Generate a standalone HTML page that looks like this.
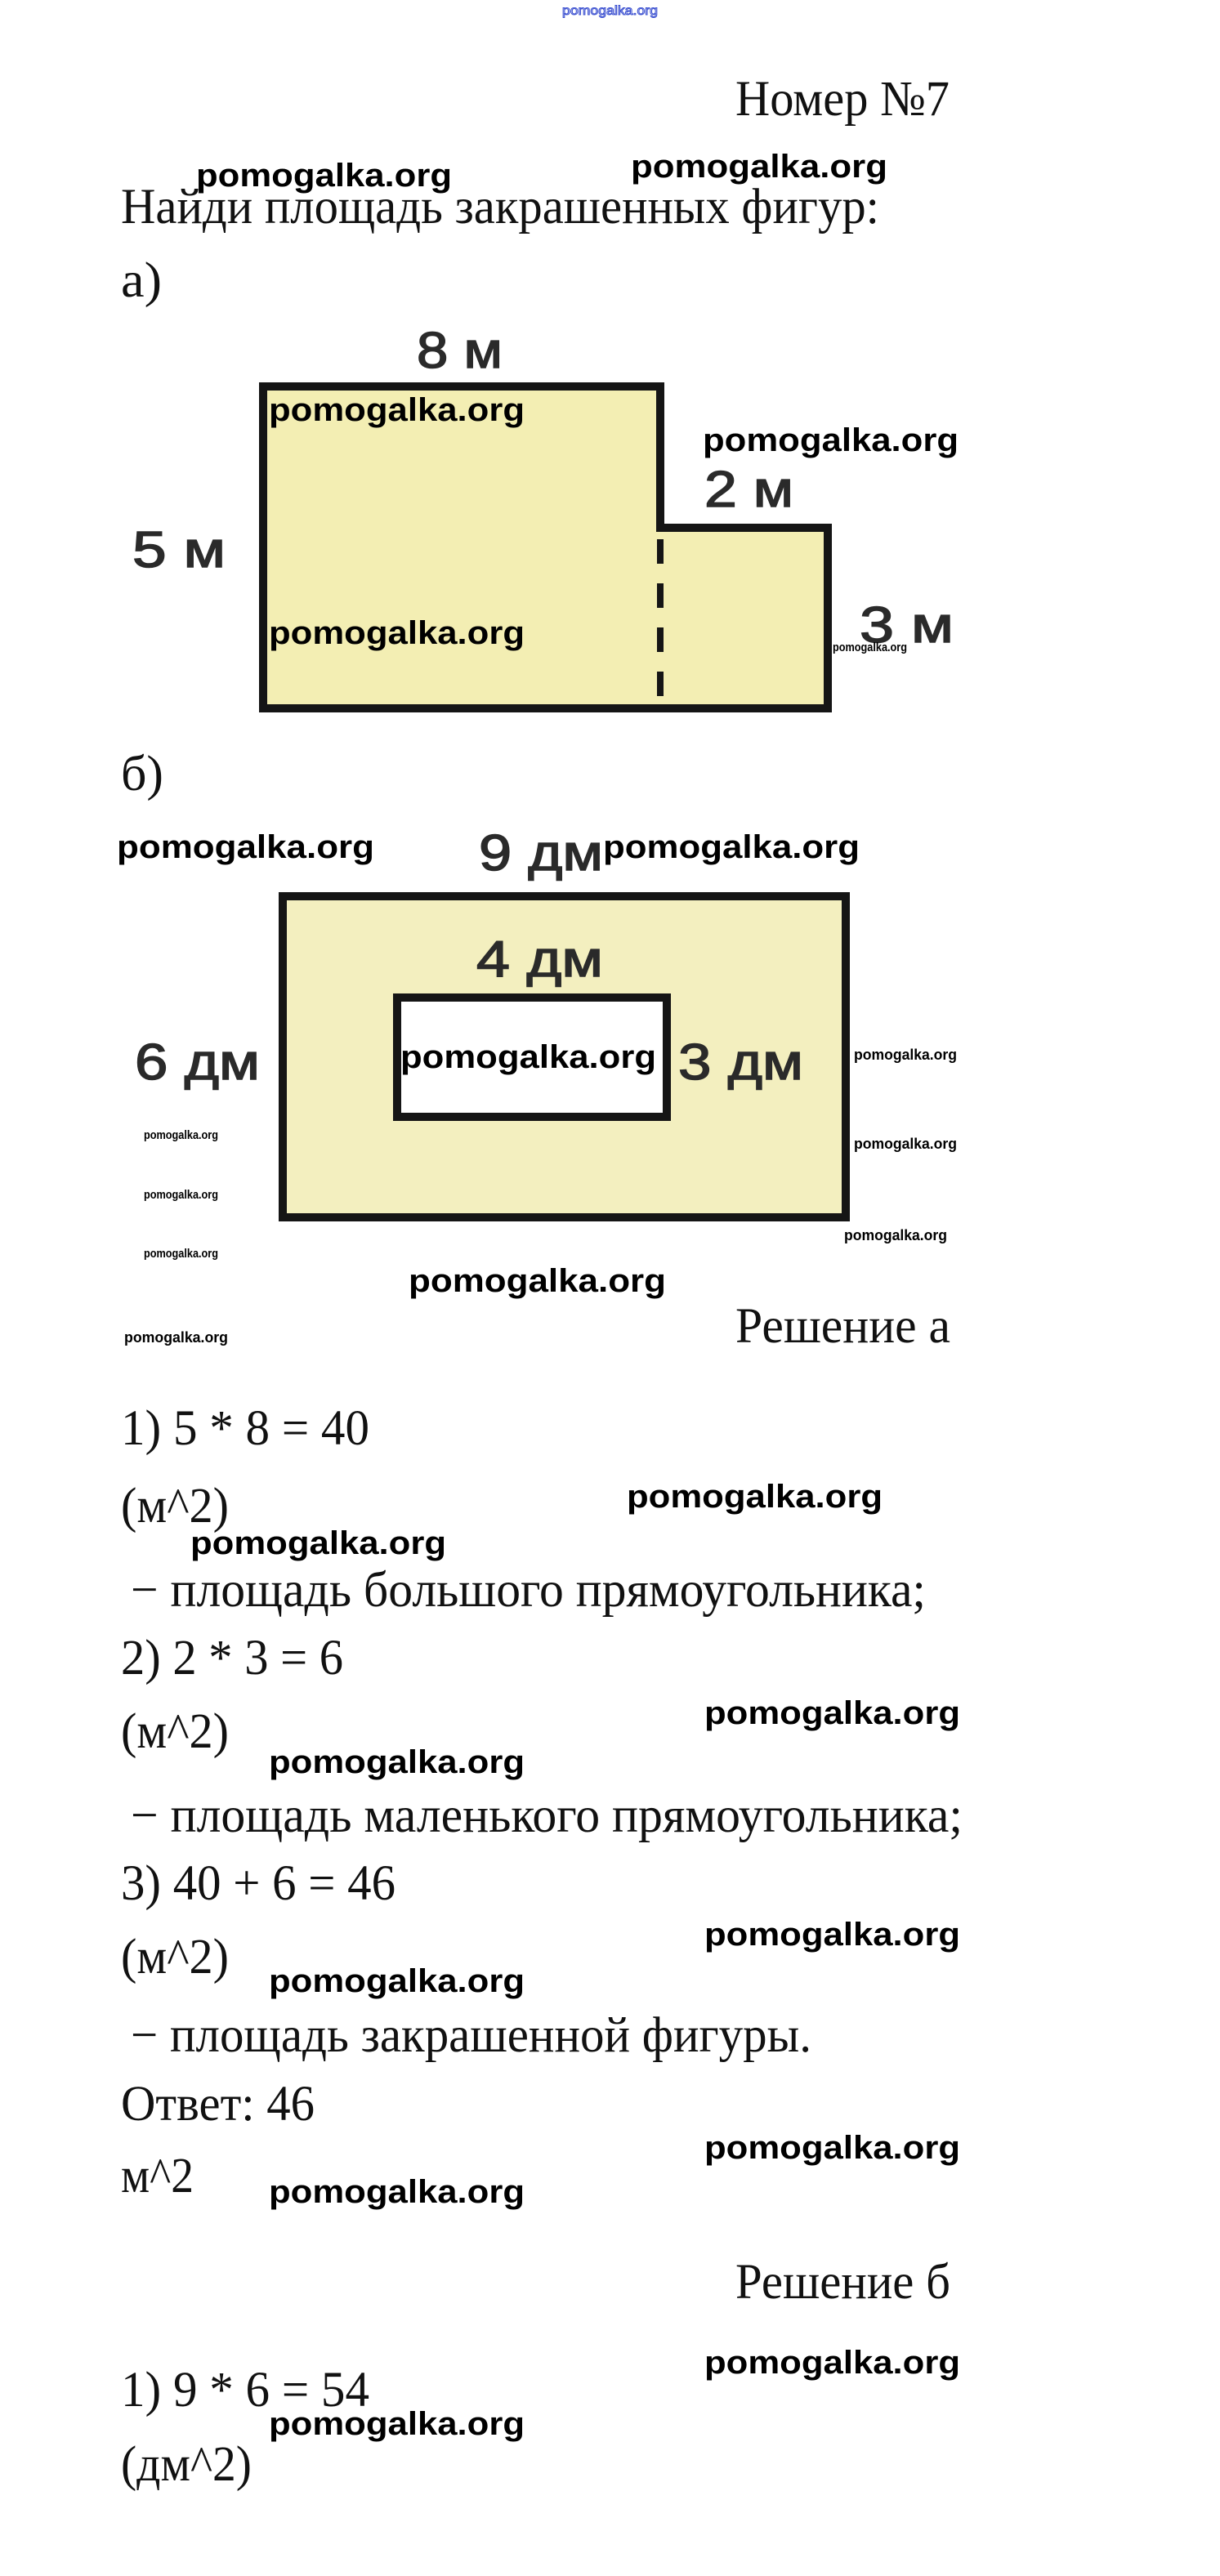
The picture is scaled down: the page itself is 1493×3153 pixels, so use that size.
<!DOCTYPE html>
<html><head><meta charset="utf-8"><style>
html,body{margin:0;padding:0;background:#fff;}
svg{display:block;}
.s{font-family:"Liberation Serif","Noto Serif CJK SC",serif;fill:#111;}
.w{font-family:"Liberation Sans",sans-serif;font-weight:bold;fill:#000;}
.l{font-family:"Liberation Sans",sans-serif;fill:#2a2a2a;stroke:#2a2a2a;stroke-width:1.5;}
</style></head><body>
<svg width="1493" height="3153" viewBox="0 0 1493 3153" xmlns="http://www.w3.org/2000/svg">
<rect width="1493" height="3153" fill="#fff"/>
<text x="688" y="18" font-family="Liberation Sans,sans-serif" font-size="16" fill="#fff" stroke="#3a4fd0" stroke-width="1" textLength="117" lengthAdjust="spacingAndGlyphs">pomogalka.org</text>

<text class="s" x="900" y="141" font-size="61" textLength="262" lengthAdjust="spacingAndGlyphs">Номер №7</text>
<text class="w" x="240" y="228" font-size="40" textLength="313" lengthAdjust="spacingAndGlyphs">pomogalka.org</text>
<text class="w" x="772" y="217" font-size="40" textLength="314" lengthAdjust="spacingAndGlyphs">pomogalka.org</text>
<text class="s" x="148" y="273" font-size="61" textLength="928" lengthAdjust="spacingAndGlyphs">Найди площадь закрашенных фигур:</text>
<text class="s" x="148" y="363" font-size="61" textLength="50" lengthAdjust="spacingAndGlyphs">а)</text>

<!-- figure a -->
<path d="M322 473 H808 V646 H1013 V867 H322 Z" fill="#f3eeb3" stroke="#151515" stroke-width="10"/>
<line x1="808" y1="660" x2="808" y2="867" stroke="#151515" stroke-width="8" stroke-dasharray="30 24"/>
<text class="l" x="510" y="450" font-size="62" textLength="105" lengthAdjust="spacingAndGlyphs">8 м</text>
<text class="l" x="862" y="620" font-size="62" textLength="109" lengthAdjust="spacingAndGlyphs">2 м</text>
<text class="l" x="162" y="694" font-size="62" textLength="114" lengthAdjust="spacingAndGlyphs">5 м</text>
<text class="l" x="1052" y="786" font-size="62" textLength="115" lengthAdjust="spacingAndGlyphs">3 м</text>
<text class="w" x="329" y="515" font-size="40" textLength="313" lengthAdjust="spacingAndGlyphs">pomogalka.org</text>
<text class="w" x="329" y="788" font-size="40" textLength="313" lengthAdjust="spacingAndGlyphs">pomogalka.org</text>
<text class="w" x="860" y="552" font-size="40" textLength="313" lengthAdjust="spacingAndGlyphs">pomogalka.org</text>
<text class="w" x="1019" y="797" font-size="15" font-weight="normal" textLength="91" lengthAdjust="spacingAndGlyphs">pomogalka.org</text>

<text class="s" x="148" y="967" font-size="61" textLength="52" lengthAdjust="spacingAndGlyphs">б)</text>

<!-- figure b -->
<text class="w" x="143" y="1050" font-size="40" textLength="315" lengthAdjust="spacingAndGlyphs">pomogalka.org</text>
<text class="l" x="586" y="1065" font-size="62" textLength="152" lengthAdjust="spacingAndGlyphs">9 дм</text>
<text class="w" x="738" y="1050" font-size="40" textLength="314" lengthAdjust="spacingAndGlyphs">pomogalka.org</text>
<rect x="346" y="1097" width="689" height="393" fill="#f3efbf" stroke="#151515" stroke-width="10"/>
<rect x="486" y="1221" width="330" height="146" fill="#fff" stroke="#151515" stroke-width="10"/>
<text class="l" x="583" y="1195" font-size="62" textLength="155" lengthAdjust="spacingAndGlyphs">4 дм</text>
<text class="l" x="165" y="1321" font-size="62" textLength="153" lengthAdjust="spacingAndGlyphs">6 дм</text>
<text class="l" x="830" y="1321" font-size="62" textLength="153" lengthAdjust="spacingAndGlyphs">3 дм</text>
<text class="w" x="490" y="1307" font-size="40" textLength="313" lengthAdjust="spacingAndGlyphs">pomogalka.org</text>
<text class="w" x="1045" y="1297" font-size="18" font-weight="normal" textLength="126" lengthAdjust="spacingAndGlyphs">pomogalka.org</text>
<text class="w" x="1045" y="1406" font-size="18" font-weight="normal" textLength="126" lengthAdjust="spacingAndGlyphs">pomogalka.org</text>
<text class="w" x="1033" y="1518" font-size="18" font-weight="normal" textLength="126" lengthAdjust="spacingAndGlyphs">pomogalka.org</text>
<text class="w" x="176" y="1394" font-size="15" font-weight="normal" textLength="91" lengthAdjust="spacingAndGlyphs">pomogalka.org</text>
<text class="w" x="176" y="1467" font-size="15" font-weight="normal" textLength="91" lengthAdjust="spacingAndGlyphs">pomogalka.org</text>
<text class="w" x="176" y="1539" font-size="15" font-weight="normal" textLength="91" lengthAdjust="spacingAndGlyphs">pomogalka.org</text>
<text class="w" x="500" y="1581" font-size="40" textLength="315" lengthAdjust="spacingAndGlyphs">pomogalka.org</text>
<text class="w" x="152" y="1643" font-size="18" font-weight="normal" textLength="127" lengthAdjust="spacingAndGlyphs">pomogalka.org</text>
<text class="s" x="900" y="1643" font-size="61" textLength="263" lengthAdjust="spacingAndGlyphs">Решение а</text>

<!-- solution a -->
<text class="s" x="148" y="1768" font-size="61" textLength="304" lengthAdjust="spacingAndGlyphs">1) 5 * 8 = 40</text>
<text class="s" x="148" y="1863" font-size="61" textLength="132" lengthAdjust="spacingAndGlyphs">(м^2)</text>
<text class="w" x="767" y="1845" font-size="40" textLength="313" lengthAdjust="spacingAndGlyphs">pomogalka.org</text>
<text class="w" x="233" y="1902" font-size="40" textLength="313" lengthAdjust="spacingAndGlyphs">pomogalka.org</text>
<text class="s" x="160" y="1966" font-size="61" textLength="973" lengthAdjust="spacingAndGlyphs">− площадь большого прямоугольника;</text>
<text class="s" x="148" y="2049" font-size="61" textLength="272" lengthAdjust="spacingAndGlyphs">2) 2 * 3 = 6</text>
<text class="s" x="148" y="2139" font-size="61" textLength="132" lengthAdjust="spacingAndGlyphs">(м^2)</text>
<text class="w" x="862" y="2110" font-size="40" textLength="313" lengthAdjust="spacingAndGlyphs">pomogalka.org</text>
<text class="w" x="329" y="2170" font-size="40" textLength="313" lengthAdjust="spacingAndGlyphs">pomogalka.org</text>
<text class="s" x="160" y="2242" font-size="61" textLength="1018" lengthAdjust="spacingAndGlyphs">− площадь маленького прямоугольника;</text>
<text class="s" x="148" y="2325" font-size="61" textLength="336" lengthAdjust="spacingAndGlyphs">3) 40 + 6 = 46</text>
<text class="s" x="148" y="2415" font-size="61" textLength="132" lengthAdjust="spacingAndGlyphs">(м^2)</text>
<text class="w" x="862" y="2381" font-size="40" textLength="313" lengthAdjust="spacingAndGlyphs">pomogalka.org</text>
<text class="w" x="329" y="2438" font-size="40" textLength="313" lengthAdjust="spacingAndGlyphs">pomogalka.org</text>
<text class="s" x="160" y="2511" font-size="61" textLength="833" lengthAdjust="spacingAndGlyphs">− площадь закрашенной фигуры.</text>
<text class="s" x="148" y="2595" font-size="61" textLength="237" lengthAdjust="spacingAndGlyphs">Ответ: 46</text>
<text class="w" x="862" y="2642" font-size="40" textLength="313" lengthAdjust="spacingAndGlyphs">pomogalka.org</text>
<text class="s" x="148" y="2683" font-size="61" textLength="89" lengthAdjust="spacingAndGlyphs">м^2</text>
<text class="w" x="329" y="2696" font-size="40" textLength="313" lengthAdjust="spacingAndGlyphs">pomogalka.org</text>

<text class="s" x="900" y="2813" font-size="61" textLength="263" lengthAdjust="spacingAndGlyphs">Решение б</text>
<text class="w" x="862" y="2905" font-size="40" textLength="313" lengthAdjust="spacingAndGlyphs">pomogalka.org</text>
<text class="s" x="148" y="2945" font-size="61" textLength="304" lengthAdjust="spacingAndGlyphs">1) 9 * 6 = 54</text>
<text class="w" x="329" y="2980" font-size="40" textLength="313" lengthAdjust="spacingAndGlyphs">pomogalka.org</text>
<text class="s" x="148" y="3036" font-size="61" textLength="160" lengthAdjust="spacingAndGlyphs">(дм^2)</text>
</svg>
</body></html>
